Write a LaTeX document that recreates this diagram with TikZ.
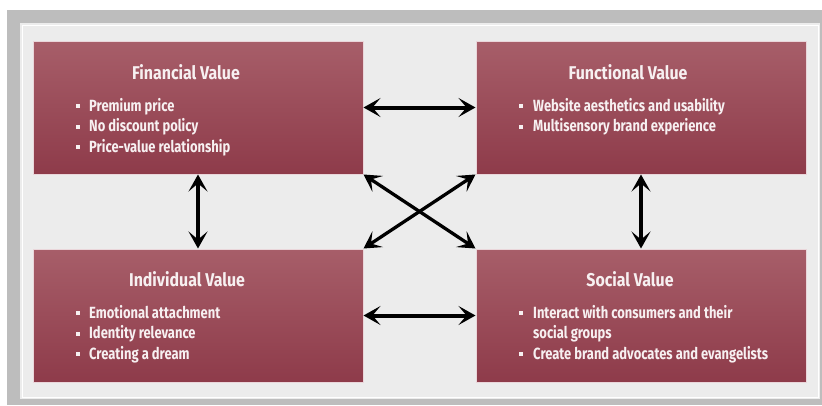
\documentclass[tikz,border=0pt]{standalone}
\usepackage{fontspec}
\usetikzlibrary{arrows.meta}
\newfontfamily\ttlfont[FakeStretch=0.86]{Fira Sans}
\newfontfamily\bulfont[FakeStretch=0.8]{Fira Sans}
\definecolor{frame}{HTML}{BDBDBD}
\definecolor{panel}{HTML}{ECECEC}
\definecolor{boxtop}{HTML}{A75E69}
\definecolor{boxbot}{HTML}{8E3B4A}
\definecolor{boxline}{HTML}{EAD6DA}
\definecolor{txt}{HTML}{F7F0F1}
\tikzset{
  valbox/.style={draw=boxline, line width=1pt, top color=boxtop, bottom color=boxbot,
    minimum width=330pt, minimum height=133pt, inner sep=0pt},
  ttl/.style={text=txt, font=\ttlfont\bfseries\fontsize{18.5}{20}\selectfont, inner sep=0pt, anchor=base},
  bul/.style={text=txt, font=\bulfont\bfseries\fontsize{16.2}{18}\selectfont, inner sep=0pt, anchor=base west},
  dot/.style={fill=txt, minimum size=3.8pt, inner sep=0pt},
  arr/.style={line width=4pt, black, {Stealth[length=17pt,width=19pt,inset=8pt]}-{Stealth[length=17pt,width=19pt,inset=8pt]}},
}
\begin{document}
\begin{tikzpicture}[x=1pt,y=-1pt]
\useasboundingbox (0,0) rectangle (822,405);
\fill[white] (0,0) rectangle (822,405);
\fill[frame] (7,10) rectangle (822,405);
\fill[panel] (20,23) rectangle (820,399);
\draw[white, line width=1pt] (22,25) rectangle (818,397);
% boxes
\node[valbox] (fin) at (198,107.5) {};
\node[valbox] (fun) at (641,107.5) {};
\node[valbox] (ind) at (198,315.5) {};
\node[valbox] (soc) at (641,315.5) {};
% titles
\node[ttl] (fint) at (186,79) {Financial Value};
\node[ttl] (funt) at (628,79) {Functional Value};
\node[ttl] (indt) at (187,286) {Individual Value};
\node[ttl] (soct) at (630,286) {Social Value};
% financial bullets
\node[dot] (fd1) at (78,106) {}; \node[bul] (f1) at (89,111) {Premium price};
\node[dot] (fd2) at (78,127) {}; \node[bul] (f2) at (89,131.5) {No discount policy};
\node[dot] (fd3) at (78,147) {}; \node[bul] (f3) at (89,152) {Price-value relationship};
% functional bullets
\node[dot] (gd1) at (521,106) {}; \node[bul] (g1) at (533,111) {Website aesthetics and usability};
\node[dot] (gd2) at (521,127) {}; \node[bul] (g2) at (533,131.5) {Multisensory brand experience};
% individual bullets
\node[dot] (id1) at (78,313) {}; \node[bul] (i1) at (89,318) {Emotional attachment};
\node[dot] (id2) at (78,334) {}; \node[bul] (i2) at (89,338.5) {Identity relevance};
\node[dot] (id3) at (78,354) {}; \node[bul] (i3) at (89,359) {Creating a dream};
% social bullets
\node[dot] (sd1) at (521,313) {}; \node[bul] (s1) at (533,318) {Interact with consumers and their};
\node[bul] (s1b) at (533,338.5) {social groups};
\node[dot] (sd2) at (521,354) {}; \node[bul] (s2) at (533,359) {Create brand advocates and evangelists};
% arrows
\draw[arr] (fin.east) -- (fun.west);
\draw[arr] (ind.east) -- (soc.west);
\draw[arr] (fin.south) -- (ind.north);
\draw[arr] (fun.south) -- (soc.north);
\draw[arr, line width=3.3pt] (fin.south east) -- (soc.north west);
\draw[arr, line width=3.3pt] (fun.south west) -- (ind.north east);
\end{tikzpicture}
\end{document}
